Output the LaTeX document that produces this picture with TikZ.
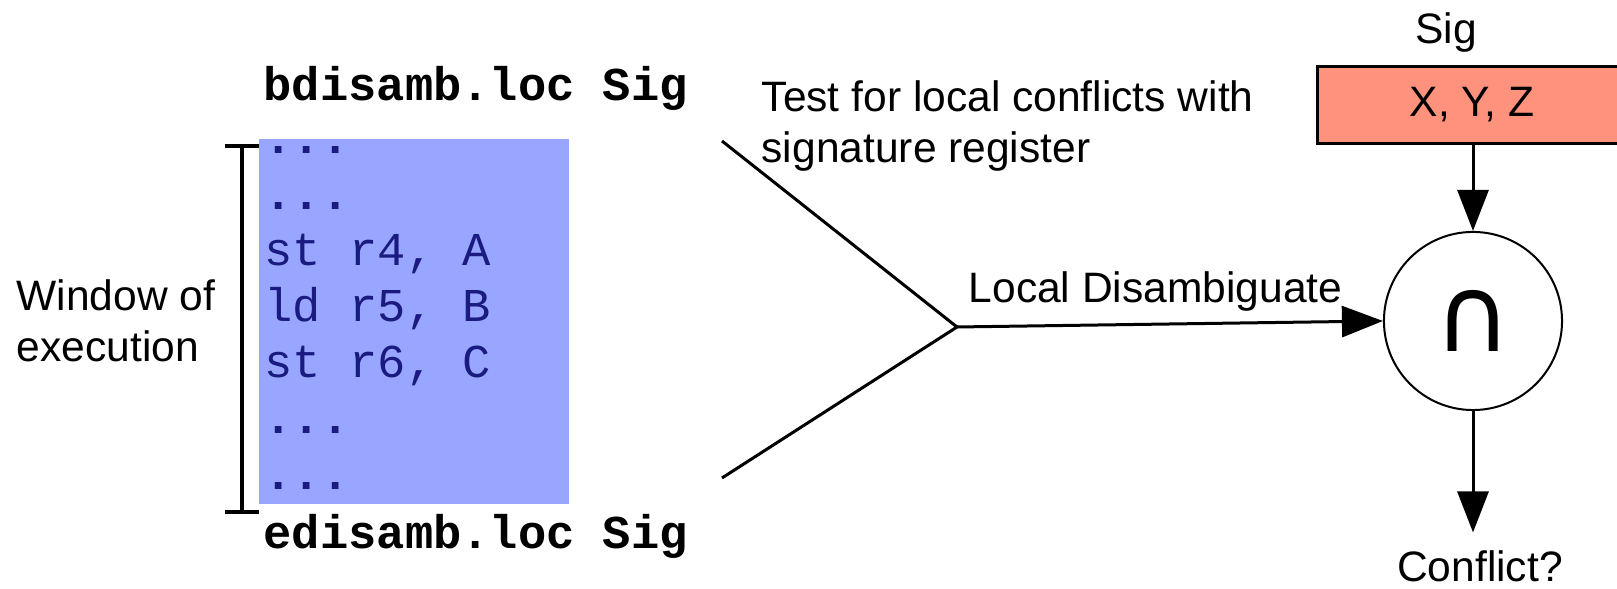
\documentclass[tikz,border=0pt]{standalone}
\usepackage{fontspec}
\setmainfont{Liberation Sans}
\setmonofont{Liberation Mono}
\newfontfamily\symfont{DejaVu Sans}
\usetikzlibrary{arrows.meta}
\definecolor{windowblue}{HTML}{98A6FF}
\definecolor{sigred}{HTML}{FF927C}
\definecolor{codeblue}{HTML}{1A1A80}
\tikzset{% 
	label_text/.style={font=\fontsize{12.1}{14.7}\selectfont,inner sep=0pt}
}
\tikzset{% 
	marker_text/.style={font=\ttfamily\bfseries\fontsize{13.4}{16}\selectfont,inner sep=0pt,anchor=base west},
	code_text/.style={font=\ttfamily\fontsize{13.4}{16}\selectfont,text=codeblue,inner sep=0pt,anchor=base west}
}
\tikzset{% 
	wire/.style={line width=0.03cm},
	flow/.style={line width=0.03cm,-{Triangle[length=0.41cm,width=0.31cm]}}
}
\newcommand{\codedots}{{\bfseries ...}}

\begin{document}
\begin{tikzpicture}[x=0.01cm,y=-0.01cm]
		\useasboundingbox (0,0) rectangle (1617,589);

		%Window of execution
		\fill [windowblue] (259,139) rectangle (569,504);
		\draw [line width=0.04cm] (225,146) -- (259,146) (242,146) -- (242,512) (225,512) -- (259,512);
		\node [label_text,align=left,anchor=base west] (window) at (16,362) {Window of\\execution};

		\node [marker_text] (bmark) at (263,101) {bdisamb.loc Sig};
		\node [marker_text] (emark) at (263,549) {edisamb.loc Sig};

		\foreach \instr [count=\i from 0] in {\codedots,\codedots,{st r4, A},{ld r5, B},{st r6, C},\codedots,\codedots}
			\node [code_text] (code\i) at (264,154+56*\i) {\instr};

		%Signature register
		\node [label_text,anchor=base] (sig) at (1446,44) {Sig};
		\node [draw,line width=0.035cm,fill=sigred,minimum width=3.09cm,minimum height=0.77cm,
			label_text] (reg) at (1472,105) {X, Y, Z};

		%Intersection
		\node [draw,circle,line width=0.02cm,minimum size=1.78cm,inner sep=0pt,
			font=\symfont\fontsize{30}{36}\selectfont] (cap) at (1473,321) {∩};
		\node [label_text,anchor=base] (conflict) at (1480,582) {Conflict?};

		%Fork
		\coordinate (fork) at (957,327);
		\coordinate (upper) at (722,141);
		\coordinate (lower) at (722,478);
		\draw [wire] (upper) -- (fork) -- (lower);
		\node [label_text,align=left,anchor=base west] (test) at (761,163) {Test for local conflicts with\\signature register};
		\node [label_text,anchor=base west] (local) at (968,303) {Local Disambiguate};

		%Arrows
		\draw [flow] (fork) -- (cap.west);
		\draw [flow] (cap.north |- reg.south) -- (cap.north);
		\draw [flow,shorten >=0.18cm] (cap.south) -- (cap.south |- conflict.north);

	\end{tikzpicture}
\end{document}
